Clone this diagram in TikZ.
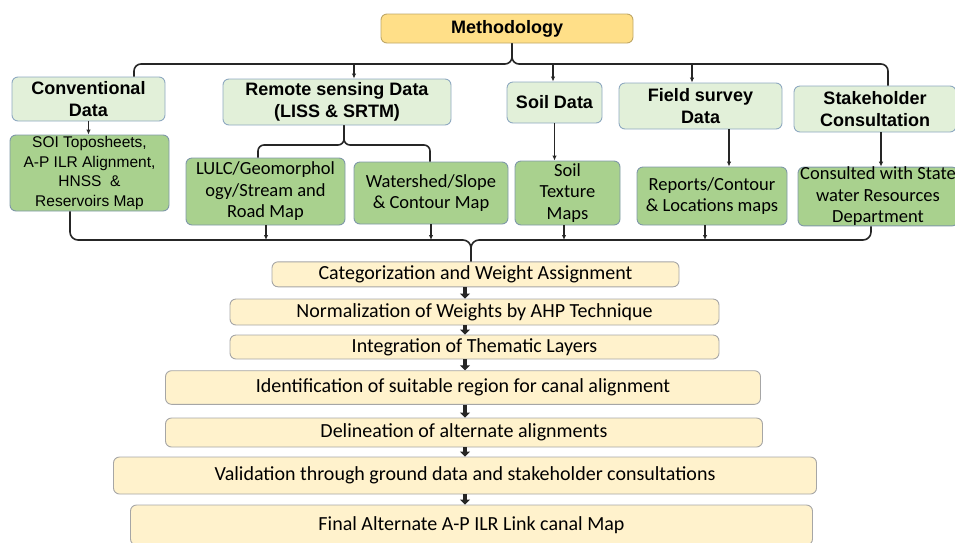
\documentclass[tikz,border=0pt]{standalone}
\usepackage{fontspec}
\setmainfont{Carlito}
\newfontfamily\arialf{Liberation Sans}
\usetikzlibrary{arrows.meta}

\definecolor{methfill}{HTML}{FFDF88}
\definecolor{methdraw}{HTML}{BFA766}
\definecolor{hdrfill}{HTML}{E2F0D9}
\definecolor{hdrdraw}{HTML}{8EA9C1}
\definecolor{grnfill}{HTML}{A9D18E}
\definecolor{grndraw}{HTML}{7F98A8}
\definecolor{botfill}{HTML}{FFF2CC}
\definecolor{botdraw}{HTML}{A6A6A6}
\definecolor{linec}{HTML}{262626}

\begin{document}
\begin{tikzpicture}[x=1pt,y=-1pt,
  box/.style={rounded corners=6pt, line width=0.9pt, inner sep=0pt, align=center, text=black},
  meth/.style={box, fill=methfill, draw=methdraw, font=\arialf\bfseries\fontsize{18}{22}\selectfont},
  hdr/.style={box, fill=hdrfill, draw=hdrdraw, font=\arialf\bfseries\fontsize{18}{22}\selectfont},
  grn/.style={box, fill=grnfill, draw=grndraw, font=\fontsize{18.5}{21.5}\selectfont},
  grnA/.style={grn, font=\arialf\fontsize{15.5}{19.7}\selectfont},
  stepbox/.style={box, fill=botfill, draw=botdraw, font=\fontsize{20}{24}\selectfont},
  conn/.style={line width=1.6pt, draw=linec},
  arr/.style={conn, -{Latex[length=5pt,width=4.5pt]}},
  fat/.style={line width=3.8pt, draw=linec, -{Triangle[length=5pt,width=10pt]}}
]
\useasboundingbox (0,0) rectangle (955,542);

% top level
\node[meth, minimum width=252pt, minimum height=29pt] (meth) at (507,28.5) {Methodology};

% data categories
\node[hdr, minimum width=153pt, minimum height=44pt] (conv) at (88.5,99) {Conventional\\Data};
\node[hdr, minimum width=228pt, minimum height=46pt] (rs) at (337,102) {Remote sensing Data\\(LISS \& SRTM)};
\node[hdr, minimum width=95pt, minimum height=41pt] (soil) at (554.5,102.5) {Soil Data};
\node[hdr, minimum width=163pt, minimum height=46pt] (field) at (700.5,106) {Field survey\\Data};
\node[hdr, minimum width=162pt, minimum height=46pt] (stake) at (875,109) {Stakeholder\\Consultation};

% data products
\node[grnA, minimum width=159pt, minimum height=76pt] (soi) at (89.5,173) {SOI Toposheets,\\A-P ILR Alignment,\\HNSS \ \&\\Reservoirs Map};
\node[grn, minimum width=159pt, minimum height=67pt] (lulc) at (265.5,191.5) {LULC/Geomorphol\\ogy/Stream and\\Road Map};
\node[grn, minimum width=154pt, minimum height=62pt] (ws) at (431,193) {Watershed/Slope\\\& Contour Map};
\node[grn, minimum width=105pt, minimum height=64pt] (tex) at (567.5,193) {Soil\\Texture\\Maps};
\node[grn, minimum width=150pt, minimum height=58pt] (rep) at (712,196) {Reports/Contour\\\& Locations maps};
\node[grn, minimum width=160pt, minimum height=57pt] (cons) at (878,196.5) {Consulted with State\\water Resources\\Department};

% processing steps
\node[stepbox, minimum width=407pt, minimum height=25pt] (cat) at (475.5,274.3) {Categorization and Weight Assignment};
\node[stepbox, minimum width=489pt, minimum height=26pt] (norm) at (474.5,312) {Normalization of Weights by AHP Technique};
\node[stepbox, minimum width=489pt, minimum height=24pt] (integ) at (474.5,347) {Integration of Thematic Layers};
\node[stepbox, minimum width=595pt, minimum height=33.6pt] (ident) at (463,387.5) {Identification of suitable region for canal alignment};
\node[stepbox, minimum width=597pt, minimum height=29pt] (delin) at (464,432.5) {Delineation of alternate alignments};
\node[stepbox, minimum width=703pt, minimum height=37pt] (valid) at (465,475.5) {Validation through ground data and stakeholder consultations};
\node[stepbox, minimum width=682pt, minimum height=40pt] (final) at (471.5,525) {Final Alternate A-P ILR Link canal Map};

% brace below the top box
\coordinate (tL) at (134,64);
\coordinate (tM) at (512,64);
\coordinate (tR) at (888,64);
\draw[conn, rounded corners=7pt] (conv.north -| tL) -- (tL) -- (tM) -- (meth.south -| tM);
\draw[conn, rounded corners=7pt] (stake.north -| tR) -- (tR) -- (tM) -- (meth.south -| tM);
\coordinate (a1) at (354,64);
\coordinate (a2) at (553,64);
\coordinate (a3) at (692,64);
\draw[arr] (a1) -- (rs.north -| a1);
\draw[arr] (a2) -- (soil.north -| a2);
\draw[arr] (a3) -- (field.north -| a3);

% category to product links
\draw[arr] (conv.south) -- (conv.south |- soi.north);
\coordinate (rL) at (258,145);
\coordinate (rM) at (344,145);
\coordinate (rR) at (430,145);
\draw[conn, rounded corners=6pt] (lulc.north -| rL) -- (rL) -- (rM) -- (rs.south -| rM);
\draw[conn, rounded corners=6pt] (ws.north -| rR) -- (rR) -- (rM) -- (rs.south -| rM);
\draw[arr] (soil.south) -- (soil.south |- tex.north);
\coordinate (fx) at (729,0);
\draw[arr] (field.south -| fx) -- (rep.north -| fx);
\coordinate (sx) at (881,0);
\draw[arr] (stake.south -| sx) -- (cons.north -| sx);

% brace gathering the products
\coordinate (bL) at (70,240);
\coordinate (bM) at (471,240);
\coordinate (bR) at (871,240);
\draw[conn, rounded corners=8pt] (soi.south -| bL) -- (bL) -- (bM) -- (cat.north -| bM);
\draw[conn, rounded corners=8pt] (cons.south -| bR) -- (bR) -- (bM) -- (cat.north -| bM);
\coordinate (b1) at (266,240);
\coordinate (b2) at (431,240);
\coordinate (b3) at (564,240);
\coordinate (b4) at (705,240);
\draw[arr] (lulc.south -| b1) -- (b1);
\draw[arr] (ws.south -| b2) -- (b2);
\draw[arr] (tex.south -| b3) -- (b3);
\draw[arr] (rep.south -| b4) -- (b4);

% step sequence
\coordinate (fa) at (465,0);
\draw[fat] (cat.south -| fa) -- (norm.north -| fa);
\draw[fat] (norm.south -| fa) -- (integ.north -| fa);
\draw[fat] (integ.south -| fa) -- (ident.north -| fa);
\draw[fat] (ident.south -| fa) -- (delin.north -| fa);
\draw[fat] (delin.south -| fa) -- (valid.north -| fa);
\draw[fat] (valid.south -| fa) -- (final.north -| fa);
\end{tikzpicture}
\end{document}
